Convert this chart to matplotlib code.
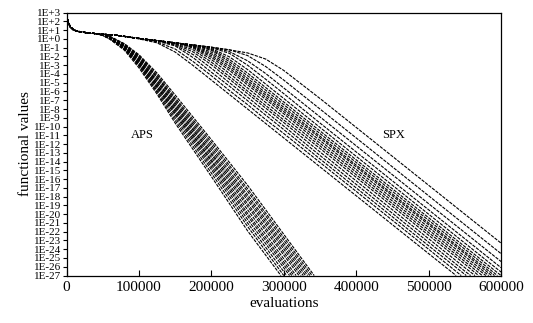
import matplotlib
matplotlib.use('Agg')
import matplotlib.pyplot as plt
import numpy as np

# serif font like the original (Times style)
matplotlib.rcParams['font.family'] = 'Liberation Serif'

# common start of every run (evaluations, log10 of functional value)
start_x = [0, 2000, 5000, 10000, 20000, 40000]
start_logf = [2.7, 2.0, 1.4, 1.0, 0.78, 0.6]

# APS runs
aps_x = [50000, 60000, 80000, 100000, 125000, 150000, 200000, 250000]
aps_logf = [
    [0.4, -0.05, -1.3, -3.3, -6.3, -9.6, -15.7, -21.9],
    [0.4, 0.0, -1.2, -3.1, -6.1, -9.3, -15.3, -21.4],
    [0.4, 0.0, -1.15, -3.0, -5.9, -9.0, -14.9, -21.0],
    [0.42, 0.05, -1.1, -2.9, -5.7, -8.7, -14.6, -20.6],
    [0.42, 0.05, -1.05, -2.8, -5.5, -8.5, -14.3, -20.2],
    [0.42, 0.1, -1.0, -2.7, -5.4, -8.3, -14.0, -19.9],
    [0.43, 0.1, -0.95, -2.6, -5.2, -8.1, -13.8, -19.5],
    [0.43, 0.1, -0.9, -2.5, -5.1, -7.9, -13.5, -19.1],
    [0.44, 0.15, -0.85, -2.4, -4.9, -7.7, -13.2, -18.8],
    [0.44, 0.15, -0.8, -2.3, -4.8, -7.5, -13.0, -18.4],
    [0.45, 0.2, -0.75, -2.2, -4.6, -7.3, -12.7, -18.1],
    [0.45, 0.2, -0.7, -2.1, -4.4, -7.1, -12.4, -17.8],
    [0.46, 0.25, -0.65, -2.0, -4.3, -6.9, -12.1, -17.4],
    [0.46, 0.25, -0.6, -1.9, -4.1, -6.7, -11.8, -17.1],
    [0.47, 0.3, -0.55, -1.8, -3.9, -6.4, -11.5, -16.7],
]
# evaluations where each APS run reaches 1E-27
aps_end = [296000, 300000, 304000, 308000, 311000, 314000, 317000, 321000,
           324000, 327000, 330000, 333000, 336000, 339000, 342000]

# SPX runs
spx_x = [70000, 100000, 125000, 150000, 175000, 200000, 225000, 250000,
         275000, 300000, 350000, 400000, 450000, 500000, 550000, 600000]
spx_logf = [
    [0.4, 0.0, -0.45, -1.5, -3.05, -4.7, -6.35, -8.0, -9.65, -11.3, -14.6, -17.9, -21.2, -24.5],
    [0.4, 0.05, -0.35, -1.15, -2.6, -4.2, -5.9, -7.5, -9.2, -10.8, -14.1, -17.4, -20.7, -24.0],
    [0.4, 0.05, -0.25, -0.8, -2.15, -3.8, -5.4, -7.05, -8.7, -10.35, -13.7, -17.0, -20.3, -23.6],
    [0.4, 0.05, -0.2, -0.7, -1.8, -3.35, -5.0, -6.65, -8.3, -9.95, -13.3, -16.6, -19.9, -23.2, -26.5],
    [0.4, 0.05, -0.2, -0.6, -1.5, -2.95, -4.6, -6.25, -7.9, -9.55, -12.9, -16.2, -19.5, -22.8, -26.1],
    [0.4, 0.05, -0.2, -0.55, -1.25, -2.65, -4.3, -5.95, -7.6, -9.25, -12.5, -15.8, -19.1, -22.4, -25.7],
    [0.4, 0.05, -0.2, -0.45, -1.05, -2.35, -3.95, -5.6, -7.25, -8.9, -12.2, -15.5, -18.8, -22.1, -25.4],
    [0.4, 0.05, -0.2, -0.45, -0.95, -2.1, -3.6, -5.25, -6.9, -8.55, -11.9, -15.2, -18.5, -21.8, -25.1],
    [0.4, 0.05, -0.2, -0.45, -0.9, -1.9, -3.35, -5.0, -6.65, -8.3, -11.6, -14.9, -18.2, -21.5, -24.8],
    [0.4, 0.05, -0.2, -0.45, -0.85, -1.7, -3.1, -4.75, -6.4, -8.05, -11.3, -14.6, -17.9, -21.2, -24.5],
    [0.4, 0.05, -0.2, -0.45, -0.8, -1.5, -2.85, -4.5, -6.15, -7.8, -11.1, -14.4, -17.7, -21.0, -24.3],
    [0.4, 0.05, -0.2, -0.45, -0.75, -1.3, -2.6, -4.2, -5.85, -7.5, -10.8, -14.1, -17.4, -20.7, -24.0],
    [0.4, 0.05, -0.2, -0.45, -0.7, -1.2, -2.35, -3.9, -5.55, -7.2, -10.5, -13.8, -17.1, -20.4, -23.7],
    [0.4, 0.05, -0.2, -0.45, -0.7, -1.1, -2.05, -3.5, -5.15, -6.8, -10.1, -13.4, -16.7, -20.0, -23.3, -26.6],
    [0.4, 0.05, -0.2, -0.45, -0.7, -1.0, -1.65, -3.0, -4.6, -6.25, -9.6, -12.9, -16.2, -19.5, -22.8, -26.1],
    [0.4, 0.05, -0.2, -0.45, -0.7, -0.95, -1.45, -2.5, -3.95, -5.6, -8.9, -12.2, -15.5, -18.8, -22.1, -25.4],
    [0.4, 0.05, -0.2, -0.45, -0.7, -0.95, -1.25, -1.9, -3.15, -4.7, -8.0, -11.3, -14.6, -17.9, -21.2, -24.5],
    [0.4, 0.05, -0.2, -0.45, -0.7, -0.95, -1.25, -1.6, -2.3, -3.6, -6.8, -10.1, -13.4, -16.7, -20.0, -23.3],
]
# where each SPX run reaches 1E-27 (None = still above at 600000)
spx_end = [538000, 545000, 552000, 558000, 564000, 569000, 574000, 579000,
           583000, 587000, 591000, 595000, 600000, None, None, None, None, None]

floor_exp = -27
y_exps = list(range(3, -28, -1))
x_ticks = [0, 100000, 200000, 300000, 400000, 500000, 600000]

fig = plt.figure(figsize=(5.33, 3.23), dpi=100)
ax = fig.add_axes([0.1248, 0.147, 0.8152, 0.814])

dash = (0, (3, 1))


def draw_run(grid, vals, end):
    xs = start_x + grid[:len(vals)]
    ys = start_logf + vals
    if end is not None:
        xs = xs + [end]
        ys = ys + [floor_exp]
    ax.plot(xs, 10.0 ** np.array(ys), color='black', lw=0.8, linestyle=dash)


for vals, end in zip(aps_logf, aps_end):
    draw_run(aps_x, vals, end)
for vals, end in zip(spx_logf, spx_end):
    draw_run(spx_x, vals, end)

ax.set_yscale('log')
ax.set_xlim(0, 600000)
ax.set_ylim(10.0 ** floor_exp, 1e3)

ax.set_yticks([10.0 ** e for e in y_exps])
ax.set_yticklabels(['1E%+d' % e for e in y_exps], fontsize=8)
ax.yaxis.set_minor_locator(matplotlib.ticker.NullLocator())
ax.tick_params(axis='y', direction='out', length=3, width=0.8, pad=1)

ax.set_xticks(x_ticks)
ax.set_xticklabels([str(v) for v in x_ticks], fontsize=11)
ax.tick_params(axis='x', direction='in', length=4, width=0.8, pad=4)

for s in ax.spines.values():
    s.set_linewidth(0.9)

ax.set_xlabel('evaluations', fontsize=11, labelpad=2)
ax.set_ylabel('functional values', fontsize=11, labelpad=1)

ax.text(104000, 1e-11, 'APS', fontsize=9, ha='center', va='center')
ax.text(452000, 1e-11, 'SPX', fontsize=9, ha='center', va='center')

plt.savefig('out.png', dpi=100)
